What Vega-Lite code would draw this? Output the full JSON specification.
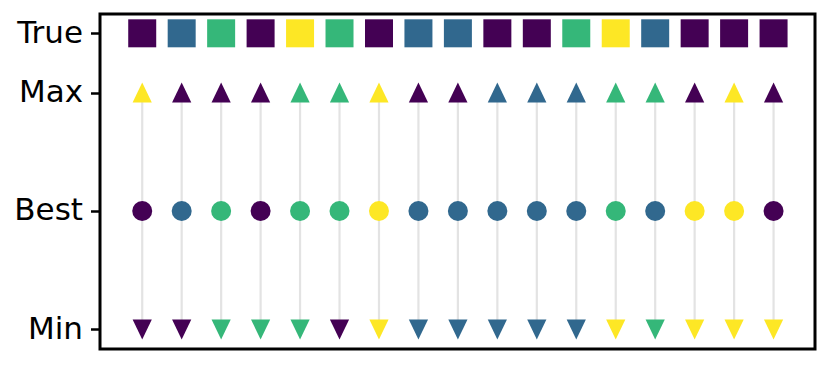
{
  "$schema": "https://vega.github.io/schema/vega-lite/v6.json",
  "width": 715,
  "height": 335,
  "autosize": "none",
  "padding": {"left": 100, "top": 14, "right": 15, "bottom": 25},
  "background": "white",
  "config": {
    "view": {"stroke": "black", "strokeWidth": 3},
    "font": "DejaVu Sans"
  },
  "data": {
    "values": [
      {"col": 0, "series": "True", "level": 2.5, "cls": "c0"},
      {"col": 1, "series": "True", "level": 2.5, "cls": "c1"},
      {"col": 2, "series": "True", "level": 2.5, "cls": "c2"},
      {"col": 3, "series": "True", "level": 2.5, "cls": "c0"},
      {"col": 4, "series": "True", "level": 2.5, "cls": "c3"},
      {"col": 5, "series": "True", "level": 2.5, "cls": "c2"},
      {"col": 6, "series": "True", "level": 2.5, "cls": "c0"},
      {"col": 7, "series": "True", "level": 2.5, "cls": "c1"},
      {"col": 8, "series": "True", "level": 2.5, "cls": "c1"},
      {"col": 9, "series": "True", "level": 2.5, "cls": "c0"},
      {"col": 10, "series": "True", "level": 2.5, "cls": "c0"},
      {"col": 11, "series": "True", "level": 2.5, "cls": "c2"},
      {"col": 12, "series": "True", "level": 2.5, "cls": "c3"},
      {"col": 13, "series": "True", "level": 2.5, "cls": "c1"},
      {"col": 14, "series": "True", "level": 2.5, "cls": "c0"},
      {"col": 15, "series": "True", "level": 2.5, "cls": "c0"},
      {"col": 16, "series": "True", "level": 2.5, "cls": "c0"},

      {"col": 0, "series": "Max", "level": 2, "cls": "c3"},
      {"col": 1, "series": "Max", "level": 2, "cls": "c0"},
      {"col": 2, "series": "Max", "level": 2, "cls": "c0"},
      {"col": 3, "series": "Max", "level": 2, "cls": "c0"},
      {"col": 4, "series": "Max", "level": 2, "cls": "c2"},
      {"col": 5, "series": "Max", "level": 2, "cls": "c2"},
      {"col": 6, "series": "Max", "level": 2, "cls": "c3"},
      {"col": 7, "series": "Max", "level": 2, "cls": "c0"},
      {"col": 8, "series": "Max", "level": 2, "cls": "c0"},
      {"col": 9, "series": "Max", "level": 2, "cls": "c1"},
      {"col": 10, "series": "Max", "level": 2, "cls": "c1"},
      {"col": 11, "series": "Max", "level": 2, "cls": "c1"},
      {"col": 12, "series": "Max", "level": 2, "cls": "c2"},
      {"col": 13, "series": "Max", "level": 2, "cls": "c2"},
      {"col": 14, "series": "Max", "level": 2, "cls": "c0"},
      {"col": 15, "series": "Max", "level": 2, "cls": "c3"},
      {"col": 16, "series": "Max", "level": 2, "cls": "c0"},

      {"col": 0, "series": "Best", "level": 1, "cls": "c0"},
      {"col": 1, "series": "Best", "level": 1, "cls": "c1"},
      {"col": 2, "series": "Best", "level": 1, "cls": "c2"},
      {"col": 3, "series": "Best", "level": 1, "cls": "c0"},
      {"col": 4, "series": "Best", "level": 1, "cls": "c2"},
      {"col": 5, "series": "Best", "level": 1, "cls": "c2"},
      {"col": 6, "series": "Best", "level": 1, "cls": "c3"},
      {"col": 7, "series": "Best", "level": 1, "cls": "c1"},
      {"col": 8, "series": "Best", "level": 1, "cls": "c1"},
      {"col": 9, "series": "Best", "level": 1, "cls": "c1"},
      {"col": 10, "series": "Best", "level": 1, "cls": "c1"},
      {"col": 11, "series": "Best", "level": 1, "cls": "c1"},
      {"col": 12, "series": "Best", "level": 1, "cls": "c2"},
      {"col": 13, "series": "Best", "level": 1, "cls": "c1"},
      {"col": 14, "series": "Best", "level": 1, "cls": "c3"},
      {"col": 15, "series": "Best", "level": 1, "cls": "c3"},
      {"col": 16, "series": "Best", "level": 1, "cls": "c0"},

      {"col": 0, "series": "Min", "level": 0, "cls": "c0"},
      {"col": 1, "series": "Min", "level": 0, "cls": "c0"},
      {"col": 2, "series": "Min", "level": 0, "cls": "c2"},
      {"col": 3, "series": "Min", "level": 0, "cls": "c2"},
      {"col": 4, "series": "Min", "level": 0, "cls": "c2"},
      {"col": 5, "series": "Min", "level": 0, "cls": "c0"},
      {"col": 6, "series": "Min", "level": 0, "cls": "c3"},
      {"col": 7, "series": "Min", "level": 0, "cls": "c1"},
      {"col": 8, "series": "Min", "level": 0, "cls": "c1"},
      {"col": 9, "series": "Min", "level": 0, "cls": "c1"},
      {"col": 10, "series": "Min", "level": 0, "cls": "c1"},
      {"col": 11, "series": "Min", "level": 0, "cls": "c1"},
      {"col": 12, "series": "Min", "level": 0, "cls": "c3"},
      {"col": 13, "series": "Min", "level": 0, "cls": "c2"},
      {"col": 14, "series": "Min", "level": 0, "cls": "c3"},
      {"col": 15, "series": "Min", "level": 0, "cls": "c3"},
      {"col": 16, "series": "Min", "level": 0, "cls": "c3"}
    ]
  },
  "encoding": {
    "x": {
      "field": "col",
      "type": "quantitative",
      "scale": {"domain": [-1.07, 17.05], "nice": false, "zero": false},
      "axis": null
    },
    "y": {
      "field": "level",
      "type": "quantitative",
      "scale": {"domain": [-0.165, 2.663], "nice": false, "zero": false},
      "axis": {
        "values": [0, 1, 2, 2.5],
        "labelExpr": "datum.value == 0 ? 'Min' : datum.value == 1 ? 'Best' : datum.value == 2 ? 'Max' : 'True'",
        "title": null,
        "domain": false,
        "grid": false,
        "ticks": true,
        "tickSize": 9.5,
        "tickWidth": 2.5,
        "tickColor": "black",
        "labelFont": "DejaVu Sans",
        "labelFontSize": 31,
        "labelColor": "black",
        "labelPadding": 8
      }
    }
  },
  "layer": [
    {
      "transform": [{"filter": "datum.series == 'Best'"}],
      "mark": {"type": "rule", "color": "#e3e3e3", "strokeWidth": 2.2},
      "encoding": {
        "y": {"datum": 0, "type": "quantitative"},
        "y2": {"datum": 2}
      }
    },
    {
      "transform": [{"filter": "datum.series == 'Max'"}],
      "mark": {"type": "point", "filled": true, "opacity": 1, "size": 400, "shape": "M0,-1L-0.96,1L0.96,1Z"},
      "encoding": {
        "color": {"field": "cls", "type": "nominal", "scale": {"domain": ["c0", "c1", "c2", "c3"], "range": ["#440154", "#31688e", "#35b779", "#fde725"]}, "legend": null}
      }
    },
    {
      "transform": [{"filter": "datum.series == 'Min'"}],
      "mark": {"type": "point", "filled": true, "opacity": 1, "size": 400, "shape": "M0,1L-0.96,-1L0.96,-1Z"},
      "encoding": {
        "color": {"field": "cls", "type": "nominal", "scale": {"domain": ["c0", "c1", "c2", "c3"], "range": ["#440154", "#31688e", "#35b779", "#fde725"]}, "legend": null}
      }
    },
    {
      "transform": [{"filter": "datum.series == 'Best'"}],
      "mark": {"type": "point", "filled": true, "opacity": 1, "size": 400, "shape": "circle"},
      "encoding": {
        "color": {"field": "cls", "type": "nominal", "scale": {"domain": ["c0", "c1", "c2", "c3"], "range": ["#440154", "#31688e", "#35b779", "#fde725"]}, "legend": null}
      }
    },
    {
      "transform": [{"filter": "datum.series == 'True'"}],
      "mark": {"type": "point", "filled": true, "opacity": 1, "size": 784, "shape": "square"},
      "encoding": {
        "color": {"field": "cls", "type": "nominal", "scale": {"domain": ["c0", "c1", "c2", "c3"], "range": ["#440154", "#31688e", "#35b779", "#fde725"]}, "legend": null}
      }
    }
  ]
}
